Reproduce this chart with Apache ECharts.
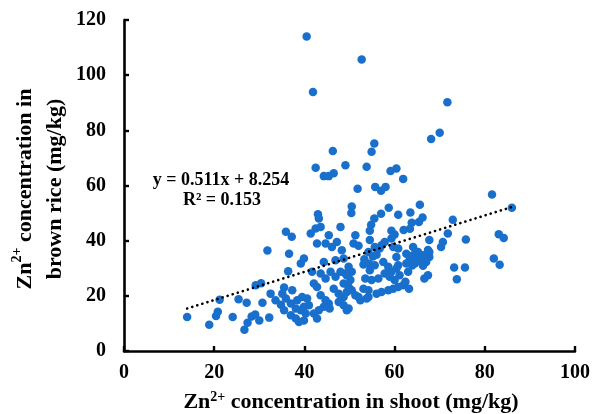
<!DOCTYPE html>
<html>
<head>
<meta charset="utf-8">
<script src="https://cdn.jsdelivr.net/npm/echarts@6/dist/echarts.min.js"></script>
<style>
html,body{margin:0;padding:0;background:#fff;}
#chart{width:593px;height:414px;}
</style>
</head>
<body>
<div id="chart"></div>
<script>
// Zn2+ in shoot (x) and brown rice (y), mg/kg
var shootZn = [
14.0,18.9,20.4,20.8,21.2,24.1,25.4,27.2,26.7,27.4,28.3,29.1,30.0,29.2,30.4,30.7,31.8,32.2,32.5,33.6,34.8,
43.0,43.2,35.9,37.2,41.4,42.5,43.6,45.4,48.0,42.8,44.7,46.1,47.2,48.3,36.6,39.9,39.2,44.3,46.9,48.7,36.4,41.7,42.1,43.6,44.7,45.8,46.9,48.0,49.1,35.5,35.1,35.9,37.3,38.4,37.0,
39.5,40.6,41.0,39.9,39.2,38.1,42.8,43.6,44.7,45.4,44.3,43.2,42.1,42.8,46.5,47.6,48.7,47.6,48.7,49.4,37.0,38.1,38.8,39.9,45.6,35.5,
40.5,52.7,41.9,71.7,68.1,70.0,55.5,54.9,46.3,42.5,49.1,53.8,44.3,45.4,46.5,59.1,60.4,61.9,51.8,55.7,57.0,58.0,
50.5,50.4,57.0,55.5,54.8,54.5,54.5,58.7,60.8,63.5,65.6,66.2,65.4,63.8,62.0,63.4,59.3,60.0,59.3,51.3,50.9,52.0,57.8,59.7,55.6,57.1,
54.2,55.2,56.0,56.7,57.5,58.6,59.3,57.8,58.9,60.4,61.1,60.0,60.8,60.4,62.6,63.3,64.1,65.2,65.9,66.6,64.5,62.6,63.0,61.9,60.8,59.7,58.6,57.1,56.0,54.2,53.5,54.9,56.4,53.1,52.0,51.3,50.5,49.8,48.7,49.4,54.2,49.8,
49.8,50.5,50.2,49.4,53.3,53.1,54.4,54.5,55.6,60.8,62.4,63.2,52.4,53.8,40.3,
67.7,67.7,67.7,67.4,66.6,66.3,67.0,72.9,71.8,70.7,70.3,75.8,73.2,75.6,73.8,81.6,86.0,83.1,84.2,82.0,83.3,
64.1,64.8,67.4,65.2,63.9,66.3
];
var riceZn = [
12.3,9.5,12.7,14.2,18.6,12.3,18.8,17.5,7.7,10.2,12.5,13.2,11.1,23.8,24.6,17.5,36.4,12.1,20.8,18.4,16.8,
49.6,48.0,43.2,41.4,42.6,44.4,45.0,42.0,45.0,39.0,39.0,37.7,39.5,36.5,35.3,33.5,31.7,32.3,32.9,33.5,28.9,28.7,24.5,28.1,26.3,28.7,26.9,28.7,28.1,23.0,20.8,19.0,22.0,18.4,17.2,
19.6,19.0,16.6,16.0,14.8,15.4,23.2,20.2,18.4,17.2,16.0,14.8,13.6,11.8,22.6,20.8,19.6,17.8,16.6,14.8,13.0,11.8,10.5,11.1,15.4,14.8,
114.0,105.7,93.9,90.2,76.9,79.1,75.2,72.2,72.5,66.4,67.3,66.8,63.4,63.4,64.4,65.3,66.2,62.4,58.8,59.5,58.1,59.5,
52.4,50.0,49.8,48.0,45.8,43.6,40.2,51.9,49.4,50.2,53.0,48.4,46.8,46.5,43.9,44.3,43.6,42.2,40.8,42.0,39.0,38.2,39.5,37.7,37.7,38.3,
35.9,34.3,34.9,37.2,32.3,30.5,28.7,28.1,26.9,29.9,27.5,25.7,31.1,34.1,35.3,32.9,34.7,35.9,32.3,34.1,31.7,31.7,28.7,23.8,23.2,22.6,22.0,21.4,20.8,22.0,26.3,25.7,26.3,22.6,19.6,20.2,22.0,23.2,24.5,21.4,19.6,15.4,
30.5,28.7,25.7,27.5,33.3,31.4,31.6,29.3,31.1,37.2,25.1,22.6,18.4,19.0,13.6,
40.2,35.9,34.1,27.5,26.3,34.7,32.3,47.6,42.6,39.5,37.7,40.4,30.3,30.3,26.0,56.7,51.9,42.3,41.0,33.5,31.3,
37.7,36.0,36.6,33.0,31.0,30.9
];
// dotted trend line end points (y = 0.511x + 8.254)
var trendX = [14, 86];
var trendY = [15.4, 52.2];
var xTicks = [0, 20, 40, 60, 80, 100];
var yTicks = [0, 20, 40, 60, 80, 100, 120];

var points = shootZn.map(function (x, i) { return [x, riceZn[i]]; });
var trend = trendX.map(function (x, i) { return [x, trendY[i]]; });

var serif = 'Liberation Serif, Times New Roman, serif';
var chart = echarts.init(document.getElementById('chart'));
chart.setOption({
  backgroundColor: '#ffffff',
  animation: false,
  grid: { left: 124, right: 15, top: 20, bottom: 63 },
  xAxis: {
    type: 'value', min: xTicks[0], max: xTicks[xTicks.length - 1], interval: 20,
    splitLine: { show: false },
    axisLine: { lineStyle: { color: '#000', width: 2.6 } },
    axisTick: { inside: true, length: 5, lineStyle: { color: '#000', width: 2.4 } },
    axisLabel: { margin: 12, color: '#000', fontFamily: serif, fontWeight: 'bold', fontSize: 20 }
  },
  yAxis: {
    type: 'value', min: yTicks[0], max: yTicks[yTicks.length - 1], interval: 20,
    splitLine: { show: false },
    axisLine: { show: true, lineStyle: { color: '#000', width: 2.6 } },
    axisTick: { show: true, inside: true, length: 5, lineStyle: { color: '#000', width: 2.4 } },
    axisLabel: { margin: 18, color: '#000', fontFamily: serif, fontWeight: 'bold', fontSize: 20 }
  },
  graphic: [
    {
      type: 'text', x: 351, y: 402,
      style: {
        text: '{n|Zn}{s|2+}{n| concentration in shoot (mg/kg)}',
        textAlign: 'center', textVerticalAlign: 'middle',
        rich: {
          n: { fontFamily: serif, fontWeight: 'bold', fontSize: 22, fill: '#000', lineHeight: 24 },
          s: { fontFamily: serif, fontWeight: 'bold', fontSize: 14, fill: '#000', verticalAlign: 'top', lineHeight: 14 }
        }
      }
    },
    {
      type: 'text', x: 40, y: 189, rotation: Math.PI / 2,
      style: {
        text: '{n|Zn}{s|2+}{n| concentration in}\n{n|brown rice (mg/kg)}',
        textAlign: 'center', textVerticalAlign: 'middle',
        rich: {
          n: { fontFamily: serif, fontWeight: 'bold', fontSize: 22, fill: '#000', lineHeight: 30, align: 'center' },
          s: { fontFamily: serif, fontWeight: 'bold', fontSize: 14, fill: '#000', verticalAlign: 'top', lineHeight: 14 }
        }
      }
    },
    {
      type: 'text', x: 221, y: 180,
      style: { text: 'y = 0.511x + 8.254', textAlign: 'center', textVerticalAlign: 'middle',
        fontFamily: serif, fontWeight: 'bold', fontSize: 18, fill: '#000' }
    },
    {
      type: 'text', x: 222, y: 200,
      style: { text: 'R² = 0.153', textAlign: 'center', textVerticalAlign: 'middle',
        fontFamily: serif, fontWeight: 'bold', fontSize: 18, fill: '#000' }
    }
  ],
  series: [
    {
      type: 'scatter', data: points, symbol: 'circle', symbolSize: 8.5,
      itemStyle: { color: '#1870cc', opacity: 1 }, z: 2
    },
    {
      type: 'line', data: trend, symbol: 'none', z: 3,
      lineStyle: { color: '#000', width: 2.6, type: [0.1, 5.2], cap: 'round' }
    }
  ]
});
</script>
</body>
</html>
